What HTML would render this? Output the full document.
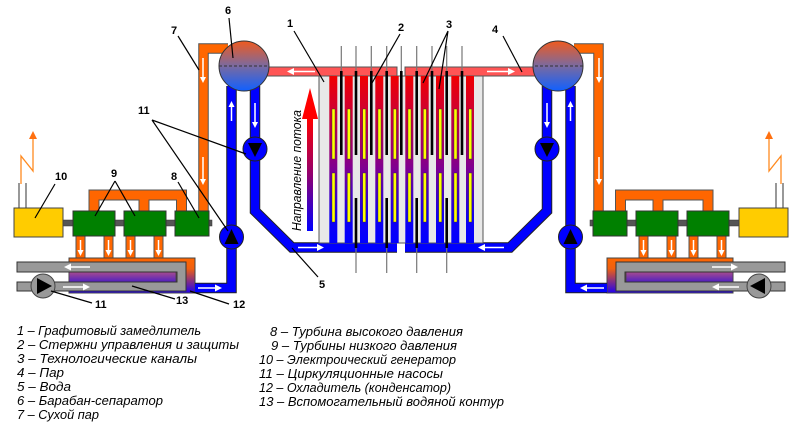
<!DOCTYPE html>
<html><head><meta charset="utf-8"><style>
html,body{margin:0;padding:0;background:#fff;}
svg{display:block;}
.lb{font-family:"Liberation Sans","DejaVu Sans",sans-serif;font-weight:bold;font-size:11px;fill:#000;}
.lg{font-family:"Liberation Sans","DejaVu Sans",sans-serif;font-style:italic;font-size:12.5px;fill:#000;}
</style></head><body>
<svg width="800" height="429" viewBox="0 0 800 429" xmlns="http://www.w3.org/2000/svg">
<defs>
<linearGradient id="drum" x1="0" y1="0" x2="0" y2="1">
<stop offset="0" stop-color="#f05a1e"/><stop offset="0.5" stop-color="#7a6aa0"/><stop offset="1" stop-color="#1060ff"/>
</linearGradient>
<linearGradient id="ch" gradientUnits="userSpaceOnUse" x1="0" y1="76" x2="0" y2="243">
<stop offset="0" stop-color="#f00000"/><stop offset="0.2" stop-color="#d00030"/><stop offset="0.55" stop-color="#800090"/><stop offset="0.85" stop-color="#1000f0"/><stop offset="1" stop-color="#0000ff"/>
</linearGradient>
<linearGradient id="arr" x1="0" y1="0" x2="0" y2="1">
<stop offset="0" stop-color="#ff0000"/><stop offset="0.5" stop-color="#900070"/><stop offset="1" stop-color="#0000ff"/>
</linearGradient>
<linearGradient id="cond" x1="0" y1="0" x2="0" y2="1">
<stop offset="0" stop-color="#ff6600"/><stop offset="0.3" stop-color="#f06010"/><stop offset="1" stop-color="#2000f0"/>
</linearGradient>
<linearGradient id="inner" x1="0" y1="0" x2="0" y2="1">
<stop offset="0" stop-color="#b0508a"/><stop offset="1" stop-color="#5020c0"/>
</linearGradient>
<g id="half">
  <!-- generator wires + lightning -->
  <path d="M19 183V208M26 183V208" stroke="#555" stroke-width="1.2" fill="none"/>
  <path d="M21 184V156L33 171V138" stroke="#ff8a20" stroke-width="1.3" fill="none"/>
  <path d="M33 131l-4 8h8z" fill="#ff7010"/>
  <!-- orange steam from drum -->
  <polyline points="228,48.5 203.5,48.5 203.5,212" fill="none" stroke="#555" stroke-width="10.5" stroke-linejoin="miter"/>
  <polyline points="228,48.5 203.5,48.5 203.5,212" fill="none" stroke="#ff6600" stroke-width="8.5" stroke-linejoin="miter"/>
  <path d="M203 58V78M203 157V180" stroke="#fff" stroke-width="1.5"/>
  <path d="M200 77l3 6 3-6zM200 179l3 6 3-6z" fill="#fff"/>
  <!-- manifold -->
  <path d="M94 212V195H181.5V212M144 195V212" fill="none" stroke="#555" stroke-width="11"/>
  <path d="M94 212V195H181.5V212M144 195V212" fill="none" stroke="#ff6600" stroke-width="9"/>
  <!-- exhaust pipes -->
  <g fill="#ff6600" stroke="#555" stroke-width="1">
    <rect x="76" y="236" width="9" height="22"/><rect x="104" y="236" width="9" height="22"/>
    <rect x="126" y="236" width="9" height="22"/><rect x="154" y="236" width="9" height="22"/>
  </g>
  <g stroke="#fff" stroke-width="1.5"><path d="M80.5 240V251M108.5 240V251M130.5 240V251M158.5 240V251"/></g>
  <g fill="#fff"><path d="M77.5 250l3 6 3-6zM105.5 250l3 6 3-6zM127.5 250l3 6 3-6zM155.5 250l3 6 3-6z"/></g>
  <!-- shaft -->
  <rect x="60" y="220" width="152" height="6" fill="#555" stroke="#333" stroke-width="0.5"/>
  <!-- generator -->
  <rect x="14" y="208" width="49" height="29" fill="#ffcc00" stroke="#444" stroke-width="1"/>
  <!-- turbines -->
  <g fill="#008000" stroke="#333" stroke-width="1">
    <rect x="73" y="211" width="42" height="25"/><rect x="124" y="211" width="42" height="25"/><rect x="175" y="211" width="34" height="25"/>
  </g>
  <!-- condenser -->
  <rect x="69" y="258" width="126" height="35" fill="url(#cond)" stroke="#444" stroke-width="1"/>
  <rect x="69" y="271" width="107" height="11" fill="url(#inner)" stroke="#444" stroke-width="0.8"/>
  <path d="M17 262H186V291H17V282H177V272H17Z" fill="#999" stroke="#333" stroke-width="1"/>
  <path d="M90 267H70M63 287H84" stroke="#fff" stroke-width="1.5"/>
  <path d="M64 267l7-3.5v7zM90 287l-7-3.5v7z" fill="#fff"/>
  <!-- pump 11 gray -->
  <circle cx="43" cy="286" r="12" fill="#999" stroke="#444" stroke-width="1"/>
  <path d="M37 278L52 286L37 294Z" fill="#000"/>
  <!-- blue riser -->
  <polyline points="231.5,86 231.5,288 195,288" fill="none" stroke="#222" stroke-width="10.5" stroke-linejoin="miter"/>
  <polyline points="231.5,86 231.5,288 195,288" fill="none" stroke="#0000ff" stroke-width="8.5" stroke-linejoin="miter"/>
  <path d="M231.5 106V121M198 288H216" stroke="#fff" stroke-width="1.5"/>
  <path d="M228.5 107l3-6 3 6zM222 288l-7-3.5v7z" fill="#fff"/>
  <!-- blue downcomer -->
  <polyline points="255,86 255,211 292,247.5 397,247.5" fill="none" stroke="#222" stroke-width="10.5" stroke-linejoin="miter"/>
  <polyline points="255,86 255,211 292,247.5 397,247.5" fill="none" stroke="#0000ff" stroke-width="8.5" stroke-linejoin="miter"/>
  <path d="M255 103V123M298 247.5H318" stroke="#fff" stroke-width="1.5"/>
  <path d="M252 122l3 6 3-6zM324 247.5l-7-3.5v7z" fill="#fff"/>
  <!-- red steam pipe -->
  <rect x="262" y="67" width="135" height="9" fill="#ff5555" stroke="#555" stroke-width="1"/>
  <path d="M293 71.5H315" stroke="#fff" stroke-width="1.5"/>
  <path d="M287 71.5l7-3.5v7z" fill="#fff"/>
  <!-- pumps blue -->
  <circle cx="255" cy="149" r="12" fill="#0000ff" stroke="#222" stroke-width="1"/>
  <path d="M248 143H262L255 157Z" fill="#000"/>
  <circle cx="231.5" cy="237" r="12" fill="#0000ff" stroke="#222" stroke-width="1"/>
  <path d="M224.5 244H238.5L231.5 229Z" fill="#000"/>
  <!-- drum -->
  <circle cx="244" cy="66" r="25" fill="url(#drum)" stroke="#333" stroke-width="1"/>
  <path d="M219 66H269" stroke="#333" stroke-width="1" stroke-dasharray="3,2"/>
</g>
</defs>
<rect width="800" height="429" fill="#fff"/>
<use href="#half"/>
<use href="#half" transform="translate(802,0) scale(-1,1)"/>
<!-- reactor core -->
<rect x="319" y="76" width="164" height="167" fill="#e8e8e8" stroke="#555" stroke-width="1"/>
<g fill="url(#ch)">
<rect x="329.3" y="76" width="8" height="167"/><rect x="344.7" y="76" width="8" height="167"/><rect x="360" y="76" width="8" height="167"/><rect x="375.3" y="76" width="8" height="167"/><rect x="390.7" y="76" width="8" height="167"/>
<rect x="405.3" y="76" width="8" height="167"/><rect x="420.7" y="76" width="8" height="167"/><rect x="436" y="76" width="8" height="167"/><rect x="451.3" y="76" width="8" height="167"/><rect x="466" y="76" width="8" height="167"/>
</g>
<g fill="#ffff00" stroke="#333" stroke-width="0.4">
<rect x="332" y="109" width="3" height="50"/><rect x="347.4" y="109" width="3" height="50"/><rect x="362.7" y="109" width="3" height="50"/><rect x="378" y="109" width="3" height="50"/><rect x="393.4" y="109" width="3" height="50"/>
<rect x="408" y="109" width="3" height="50"/><rect x="423.4" y="109" width="3" height="50"/><rect x="438.7" y="109" width="3" height="50"/><rect x="454" y="109" width="3" height="50"/><rect x="468.7" y="109" width="3" height="50"/>
<rect x="332" y="173" width="3" height="49"/><rect x="347.4" y="173" width="3" height="49"/><rect x="362.7" y="173" width="3" height="49"/><rect x="378" y="173" width="3" height="49"/><rect x="393.4" y="173" width="3" height="49"/>
<rect x="408" y="173" width="3" height="49"/><rect x="423.4" y="173" width="3" height="49"/><rect x="438.7" y="173" width="3" height="49"/><rect x="454" y="173" width="3" height="49"/><rect x="468.7" y="173" width="3" height="49"/>
</g>
<!-- rods -->
<g stroke="#777" stroke-width="1.2">
<path d="M341.3 46V71M356 46V71M371.3 46V71M386.7 46V71M401.3 46V71M416.7 46V71M432 46V71M446.7 46V71M462 46V71"/>
<path d="M356 248V273M386.7 248V273M416.7 248V273M446.7 248V273"/>
</g>
<g stroke="#000" stroke-width="2.6">
<path d="M341.3 71V155M356 71V155M371.3 71V155M386.7 71V155M401.3 71V155M416.7 71V155M432 71V155M446.7 71V155M462 71V155"/>
<path d="M356 198V248M386.7 198V248M416.7 198V248M446.7 198V248"/>
</g>
<!-- flow arrow -->
<path d="M307 119H313V231H307Z" fill="url(#arr)"/>
<path d="M302 119H318L310 88Z" fill="#ff0000"/>
<text class="lg" transform="translate(301,231) rotate(-90)" font-size="12" textLength="121" lengthAdjust="spacingAndGlyphs">Направление потока</text>
<!-- leaders -->
<g stroke="#000" stroke-width="1.2" fill="none">
<path d="M229 18L233 58"/><path d="M178 36L199 70"/><path d="M294 31L324 82"/><path d="M400 34L372 83"/>
<path d="M448 31L423 83M448 31L439 89"/><path d="M503 36L522 72"/><path d="M292 248L318 277"/>
<path d="M152 120L246 154M152 120L228 231"/><path d="M115 181L95 216M115 181L135 216"/>
<path d="M178 182L199 218"/><path d="M55 184L35 218"/><path d="M51 291L92 303"/><path d="M132 286L175 299"/><path d="M190 291L229 304"/>
</g>
<g class="lb">
<text x="225" y="14">6</text><text x="171" y="34">7</text><text x="287" y="27">1</text><text x="398" y="31">2</text><text x="446" y="28">3</text>
<text x="492" y="33">4</text><text x="319" y="288">5</text><text x="138" y="114">11</text><text x="111" y="177">9</text><text x="171" y="180">8</text>
<text x="55" y="180">10</text><text x="95" y="308">11</text><text x="176" y="304">13</text><text x="233" y="308">12</text>
</g>
<!-- legend -->
<g class="lg">
<text x="17" y="335" textLength="184" lengthAdjust="spacingAndGlyphs">1 – Графитовый замедлитель</text>
<text x="17" y="349" textLength="222" lengthAdjust="spacingAndGlyphs">2 – Стержни  управления и  защиты</text>
<text x="17" y="363" textLength="180" lengthAdjust="spacingAndGlyphs">3  – Технологические каналы</text>
<text x="17" y="377" textLength="47" lengthAdjust="spacingAndGlyphs">4 – Пар</text>
<text x="17" y="391" textLength="54" lengthAdjust="spacingAndGlyphs">5 – Вода</text>
<text x="17" y="405" textLength="146" lengthAdjust="spacingAndGlyphs">6 – Барабан-сепаратор</text>
<text x="17" y="419" textLength="82" lengthAdjust="spacingAndGlyphs">7 – Сухой пар</text>
<text x="270" y="336" textLength="193" lengthAdjust="spacingAndGlyphs">8 – Турбина высокого давления</text>
<text x="271" y="350" textLength="186" lengthAdjust="spacingAndGlyphs">9 – Турбины низкого давления</text>
<text x="259" y="364" textLength="197" lengthAdjust="spacingAndGlyphs">10 – Электроический генератор</text>
<text x="259" y="378" textLength="184" lengthAdjust="spacingAndGlyphs">11 – Циркуляционные насосы</text>
<text x="259" y="392" textLength="192" lengthAdjust="spacingAndGlyphs">12 – Охладитель (конденсатор)</text>
<text x="259" y="406" textLength="245" lengthAdjust="spacingAndGlyphs">13  – Вспомогательный водяной контур</text>
</g>
</svg>
</body></html>
